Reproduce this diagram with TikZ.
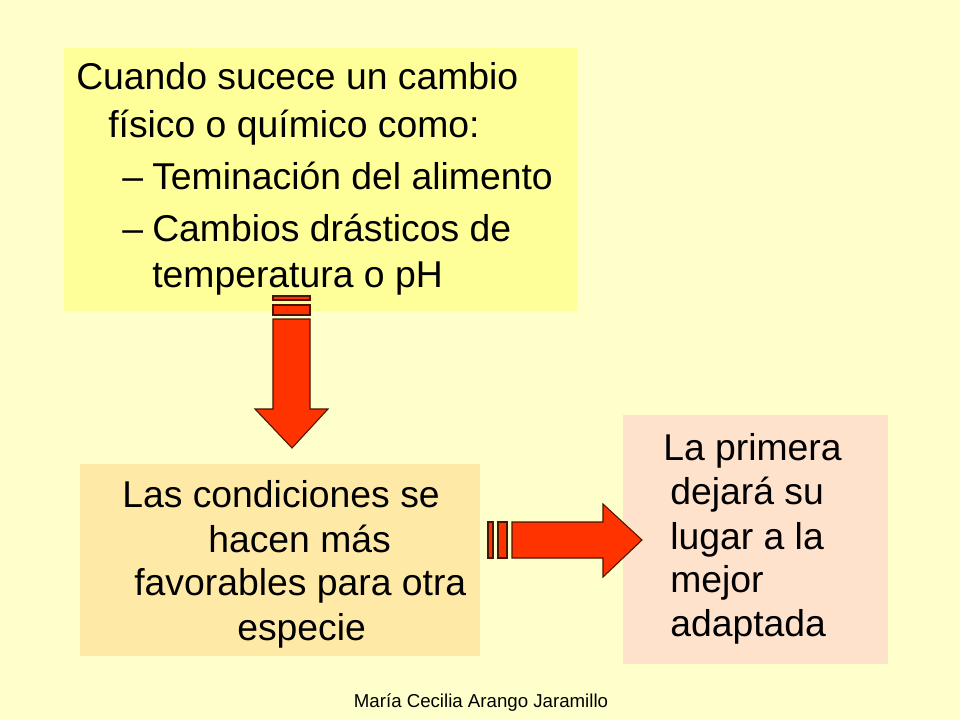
\documentclass[tikz,border=0pt]{standalone}
\usepackage{fontspec}
\setmainfont{Liberation Sans}
\usetikzlibrary{positioning}

\definecolor{fondo}{HTML}{FFFFCC}
\definecolor{amarillo}{HTML}{FFFF99}
\definecolor{crema}{HTML}{FFE9A6}
\definecolor{durazno}{HTML}{FFE2CC}
\definecolor{rojo}{HTML}{FF3300}
\definecolor{borde}{HTML}{4A1500}

\tikzset{
  linea/.style={anchor=base west, inner sep=0pt, font=\fontsize{28}{33.6}\selectfont},
  flecha/.style={fill=rojo, draw=borde, line width=0.8pt, line join=miter}
}

\begin{document}
\begin{tikzpicture}[x=0.75pt, y=-0.75pt]

  % Slide background
  \fill[fondo] (0,0) rectangle (960,720);
  \useasboundingbox (0,0) rectangle (960,720);

  % Text boxes
  \fill[amarillo] (64,48) rectangle (577,311);
  \fill[crema] (80,464) rectangle (480,656);
  \fill[durazno] (623,415) rectangle (888,664);

  % Upper box
  \node[linea] (c1) at (76,90) {Cuando sucece un cambio};
  \node[linea] (c2) at (108,138) {físico o químico como:};
  \node[linea] (g1) at (122,190) {–};
  \node[linea] (c3) at (152,190) {Teminación del alimento};
  \node[linea] (g2) at (122,242) {–};
  \node[linea] (c4) at (152,242) {Cambios drásticos de};
  \node[linea] (c5) at (152,287) {temperatura o pH};

  % Lower left box
  \node[linea] (l1) at (122,507) {Las condiciones se};
  \node[linea] (l2) at (208,552) {hacen más};
  \node[linea] (l3) at (134,595) {favorables para otra};
  \node[linea] (l4) at (237,640) {especie};

  % Right box
  \node[linea] (r1) at (663,460) {La primera};
  \node[linea] (r2) at (670,504) {dejará su};
  \node[linea] (r3) at (670,549) {lugar a la};
  \node[linea] (r4) at (670,592) {mejor};
  \node[linea] (r5) at (670,636) {adaptada};

  % Striped arrows
  \draw[flecha] (273,296) rectangle (310,300);
  \draw[flecha] (273,305) rectangle (310,315);
  \draw[flecha] (273,319) -- (310,319) -- (310,409) -- (328,409)
    -- (292,448) -- (255,409) -- (273,409) -- cycle;

  \draw[flecha] (488,522) rectangle (493,558);
  \draw[flecha] (498,522) rectangle (507,558);
  \draw[flecha] (512,522) -- (603,522) -- (603,504) -- (642,540)
    -- (603,577) -- (603,558) -- (512,558) -- cycle;

  % Footer
  \node[anchor=base, inner sep=0pt, font=\fontsize{14}{16}\selectfont] (pie) at (481,707)
    {María Cecilia Arango Jaramillo};

\end{tikzpicture}
\end{document}
